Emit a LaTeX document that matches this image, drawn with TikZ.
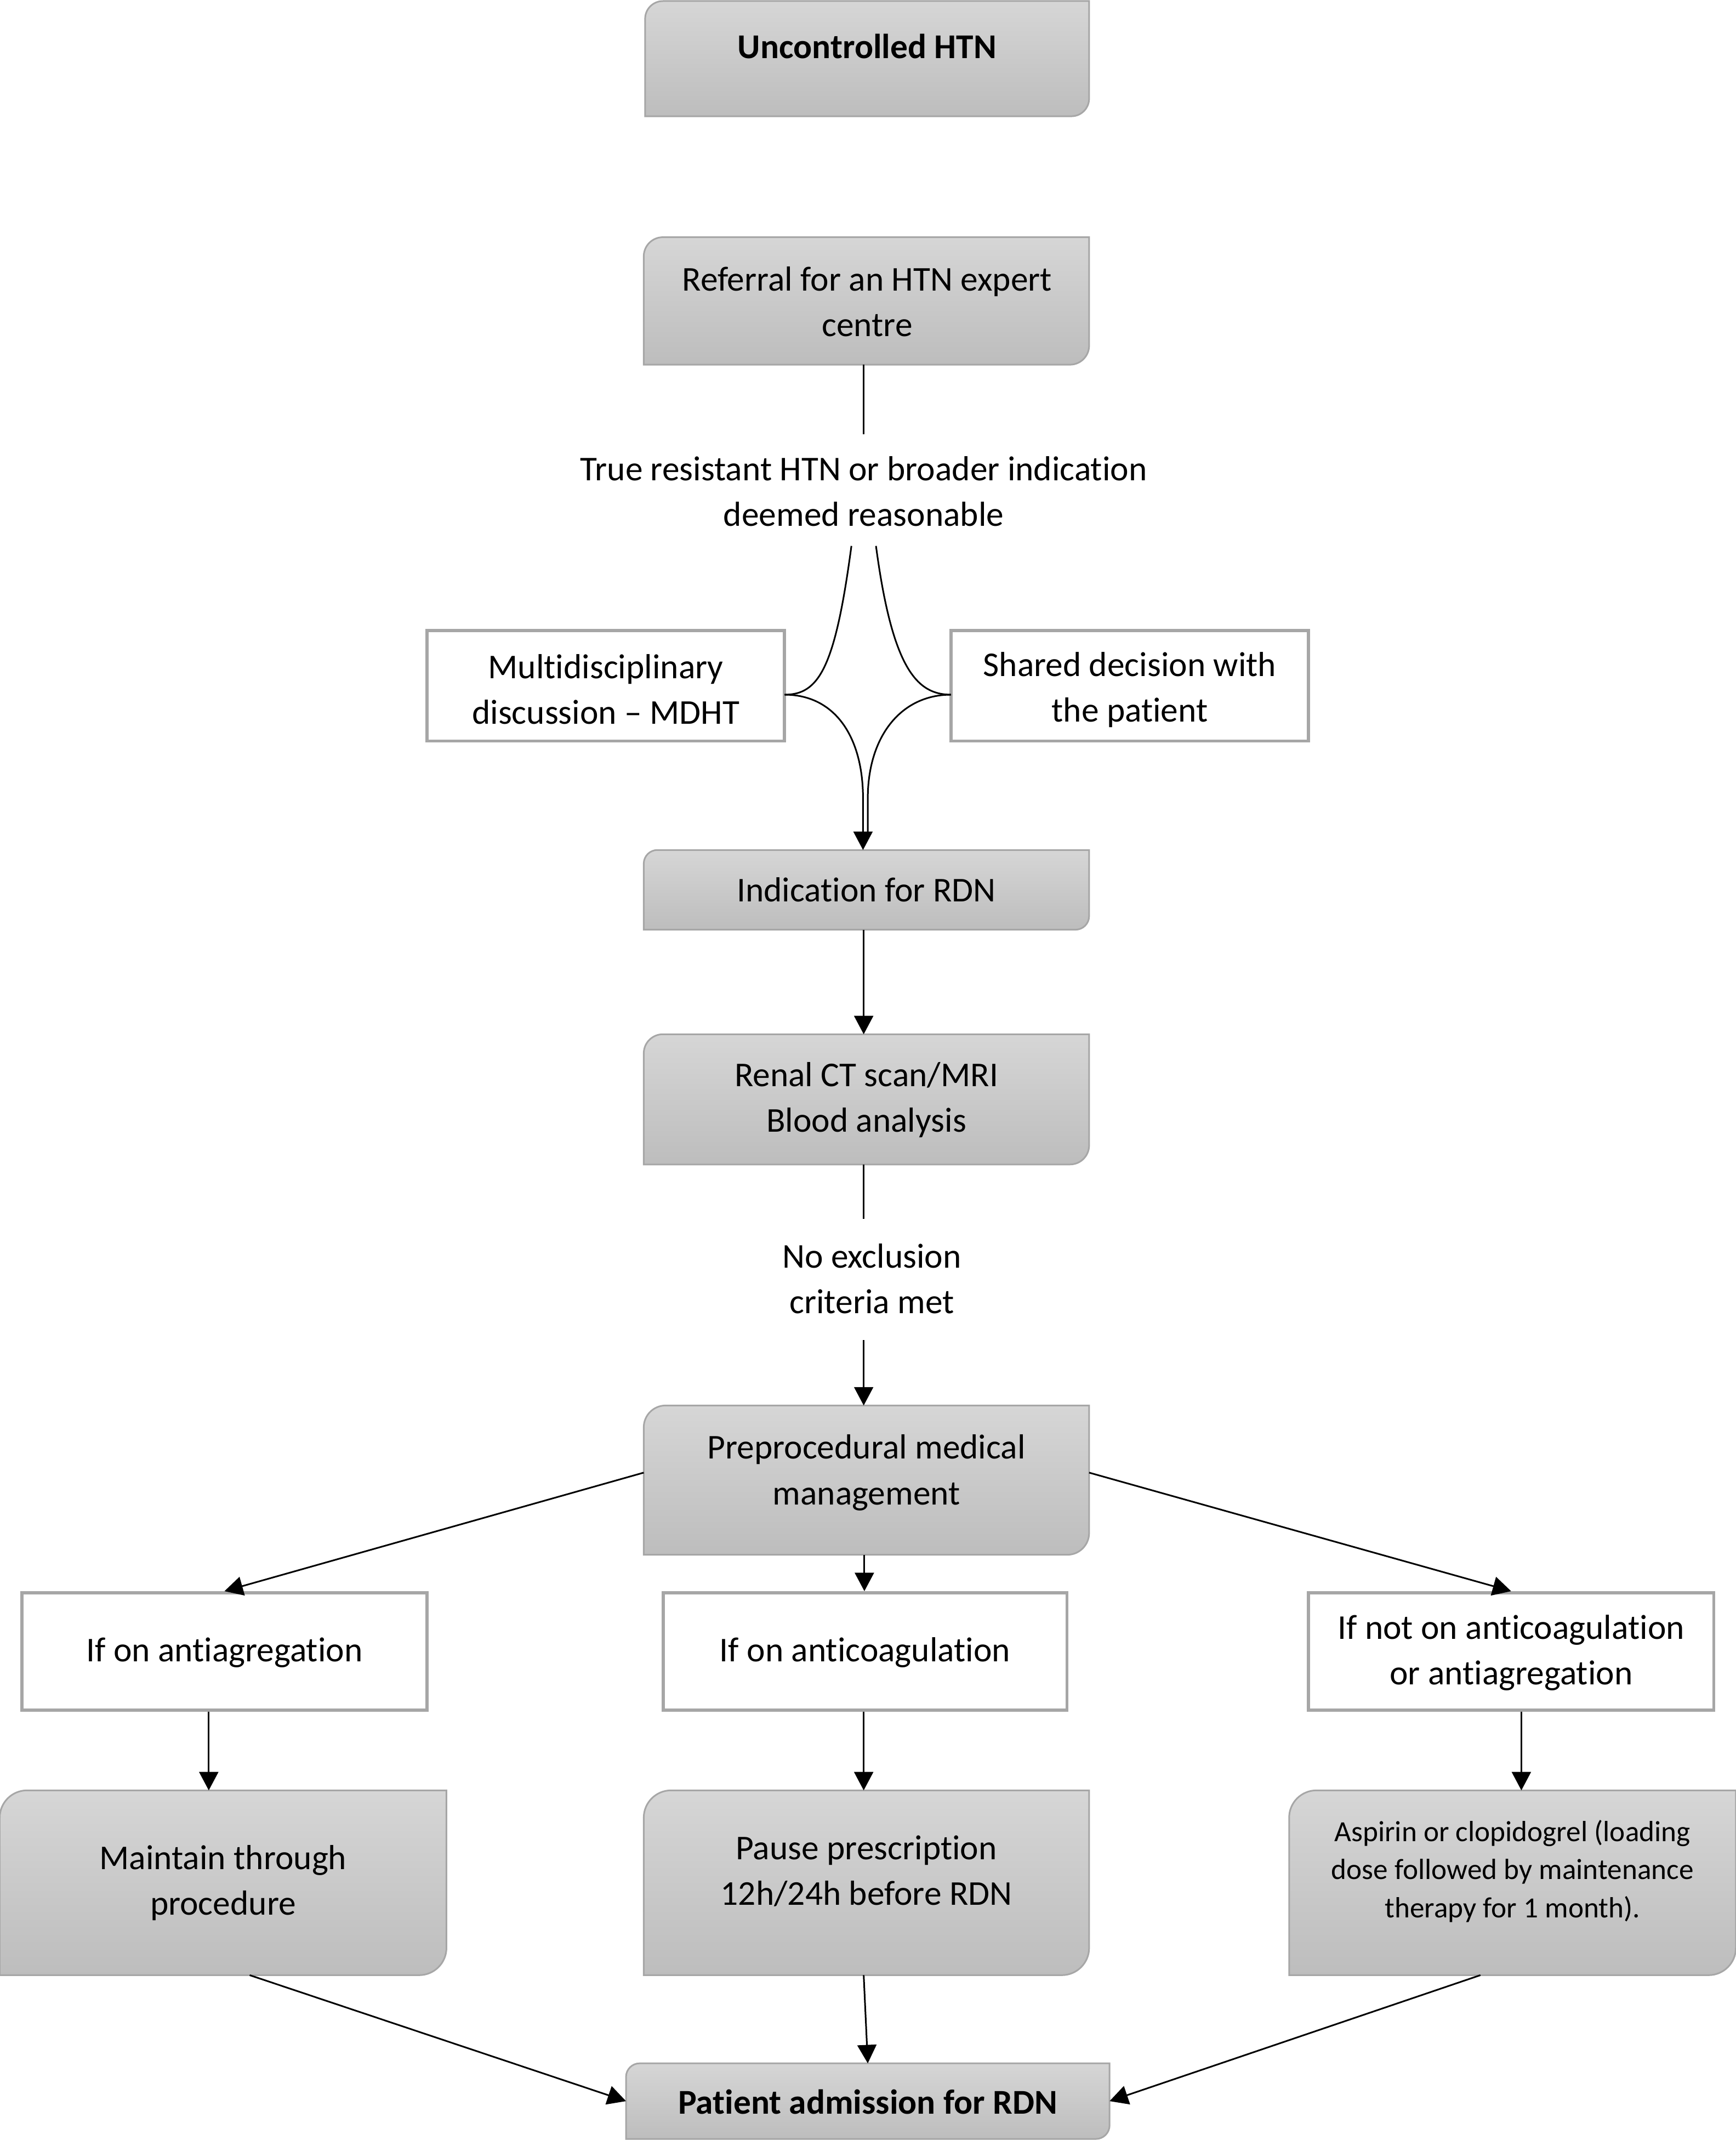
\documentclass[tikz,border=0pt]{standalone}
\usepackage{fontspec}
\setmainfont{Carlito}[Ligatures=NoCommon, RawFeature={-liga;-calt}]
\usetikzlibrary{arrows.meta}
\definecolor{gtop}{RGB}{214,214,214}
\definecolor{gbot}{RGB}{189,189,189}
\definecolor{bord}{RGB}{166,166,166}
\newcommand\dgr[2]{\shadedraw[gshade] (#1.south west) -- ([yshift=-#2pt]#1.north west) arc[start angle=180,end angle=90,radius=#2pt] -- (#1.north east) -- ([yshift=#2pt]#1.south east) arc[start angle=0,end angle=-90,radius=#2pt] -- cycle;}
\begin{document}
\begin{tikzpicture}[x=1pt,y=1pt,
  frame/.style={rectangle, inner sep=0pt, draw=none},
  gshade/.style={top color=gtop, bottom color=gbot, draw=bord, line width=1.2pt},
  txt/.style={align=center, inner sep=0pt, font=\fontsize{25.5}{33.5}\selectfont},
  small/.style={align=center, inner sep=0pt, font=\fontsize{21.4}{28}\selectfont},
  wframe/.style={rectangle, inner sep=0pt, draw=bord, line width=2.3pt, fill=white},
  arr/.style={-{Triangle[length=13.5pt,width=14pt]}, line width=1.2pt},
  ln/.style={line width=1.2pt}
]
\useasboundingbox (0,0) rectangle (1272,-1568);

% gray box frames
\node[frame, minimum width=325, minimum height=84] (b1) at (635.5,-43) {};
\node[frame, minimum width=326, minimum height=93] (b2) at (635,-220.5) {};
\node[frame, minimum width=326, minimum height=58] (b3) at (635,-652) {};
\node[frame, minimum width=326, minimum height=95] (b4) at (635,-805.5) {};
\node[frame, minimum width=326, minimum height=109] (b5) at (635,-1084.5) {};
\node[frame, minimum width=327, minimum height=135] (b6) at (163.5,-1379.5) {};
\node[frame, minimum width=326, minimum height=135] (b7) at (635,-1379.5) {};
\node[frame, minimum width=327, minimum height=135] (b8) at (1108.5,-1379.5) {};
\node[frame, minimum width=354, minimum height=55] (b9) at (636,-1539.5) {};

\dgr{b1}{13}
\dgr{b2}{14}
\dgr{b3}{10}
\dgr{b4}{14}
\dgr{b5}{16}
\dgr{b6}{20}
\dgr{b7}{20}
\dgr{b8}{20}
\dgr{b9}{10}

% texts of gray boxes
\node[txt] (t1) at (635.5,-34) {\textbf{Uncontrolled HTN}};
\node[txt] (t2) at (635.5,-221) {Referral for an HTN expert\\centre};
\node[txt] (t3) at (635,-652) {Indication for RDN};
\node[txt] (t4) at (635,-806) {Renal CT scan/MRI\\Blood analysis};
\node[txt] (t5) at (635,-1079) {Preprocedural medical\\management};
\node[txt] (t6) at (163.5,-1379.5) {Maintain through\\procedure};
\node[txt] (t7) at (635,-1371) {Pause prescription\\12h/24h before RDN};
\node[small] (t8) at (1108.5,-1371) {Aspirin or clopidogrel (loading\\dose followed by maintenance\\therapy for 1 month).};
\node[txt] (t9) at (636,-1540) {\textbf{Patient admission for RDN}};

% white boxes
\node[wframe, minimum width=262, minimum height=81] (w1) at (444,-502.5) {};
\node[wframe, minimum width=262, minimum height=81] (w2) at (828,-502.5) {};
\node[wframe, minimum width=297, minimum height=86] (w3) at (164.5,-1210) {};
\node[wframe, minimum width=296, minimum height=86] (w4) at (634,-1210) {};
\node[wframe, minimum width=297, minimum height=86] (w5) at (1107.5,-1210) {};
\node[txt] (u1) at (444,-505) {Multidisciplinary\\discussion – MDHT};
\node[txt] (u2) at (828,-505.5) {Shared decision with\\the patient};
\node[txt] (u3) at (164.5,-1211) {If on antiagregation};
\node[txt] (u4) at (634,-1211) {If on anticoagulation};
\node[txt] (u5) at (1107.5,-1211) {If not on anticoagulation\\or antiagregation};

% labels
\node[txt] (l1) at (633,-360) {True resistant HTN or broader indication\\deemed reasonable};
\node[txt] (l2) at (639,-937) {No exclusion\\criteria met};

% named free ends
\coordinate (c1) at (633,-318);
\coordinate (c2) at (624,-400);
\coordinate (c3) at (642,-400);
\coordinate (c4) at (633,-893);
\coordinate (c5) at (633,-982);
\coordinate (jl) at (575,-509);
\coordinate (jr) at (697,-509);

% connectors
\draw[ln] ([xshift=-2pt]b2.south) -- (c1);
\draw[ln] (c2) .. controls (612,-490) and (600,-509) .. (jl);
\draw[ln] (c3) .. controls (654,-490) and (672,-509) .. (jr);
\draw[ln] (jr) .. controls (660,-509) and (636,-540) .. (636,-585) -- (636,-612);
\draw[arr] (jl) .. controls (612,-509) and (632.5,-540) .. (632.5,-585) -- ([xshift=-2.5pt]b3.north);
\draw[arr] ([xshift=-2pt]b3.south) -- ([xshift=-2pt]b4.north);
\draw[ln] ([xshift=-2pt]b4.south) -- (c4);
\draw[arr] (c5) -- ([xshift=-2pt]b5.north);
\draw[arr] ([yshift=5.5pt]b5.west) -- (w3.north);
\draw[arr] ([xshift=-1.5pt]b5.south) -- ([xshift=-0.5pt]w4.north);
\draw[arr] ([yshift=5.5pt]b5.east) -- (w5.north);
\draw[arr] ([xshift=-11.5pt]w3.south) -- ([xshift=-10.5pt]b6.north);
\draw[arr] ([xshift=-1pt]w4.south) -- ([xshift=-2pt]b7.north);
\draw[arr] ([xshift=7.5pt]w5.south) -- ([xshift=6.5pt]b8.north);
\draw[arr] ([xshift=19.5pt]b6.south) -- (b9.west);
\draw[arr] ([xshift=-2pt]b7.south) -- (b9.north);
\draw[arr] ([xshift=-23.5pt]b8.south) -- (b9.east);
\end{tikzpicture}
\end{document}
